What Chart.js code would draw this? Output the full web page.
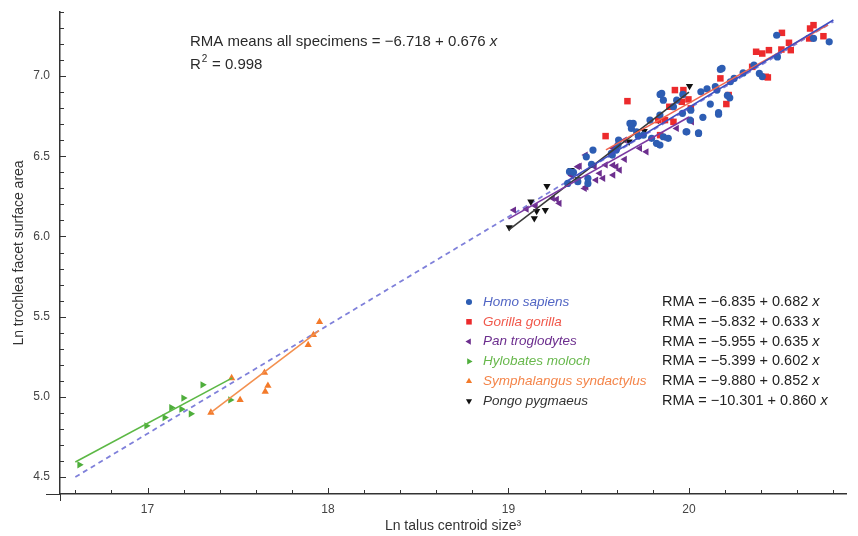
<!DOCTYPE html>
<html>
<head>
<meta charset="utf-8">
<script src="https://cdn.jsdelivr.net/npm/chart.js"></script>
<style>
  html, body { margin: 0; padding: 0; background: #fff; }
  #wrap { width: 858px; height: 536px; }
</style>
</head>
<body>
<div id="wrap"><canvas id="myChart" width="858" height="536"></canvas></div>
<script>
// Ln talus centroid size^3 (x) vs Ln trochlea facet surface area (y)

const homoPts = [
  [20.486,7.255],[20.777,7.214],[20.69,7.235],[20.49,7.12],[20.36,7.069],[20.39,7.017],[20.25,6.986],
  [20.229,6.965],[20.174,7.042],[20.146,6.934],[20.155,6.913],[20.066,6.902],[20.226,6.865],[20.118,6.826],
  [20.164,6.763],[20.053,6.643],[19.984,6.653],[20.077,6.743],[19.849,6.892],[19.858,6.85],[19.691,6.705],
  [19.681,6.674],[19.839,6.757],[19.858,6.622],[19.839,6.57],[19.793,6.612],[19.597,6.539],[19.575,6.508],
  [19.468,6.539],[19.338,6.404],[19.328,6.331],[19.44,6.331],[19.932,6.85],[19.914,6.809],[20.006,6.726],
  [19.747,6.632],[19.71,6.653],[19.964,6.768],[19.84,6.886],[19.784,6.726],[19.673,6.705],[19.719,6.626],
  [19.966,6.886],[20.01,6.788],[19.988,6.653],[20.053,6.647],[20.164,6.772],[19.82,6.581],
  [19.885,6.612],[19.61,6.601],[20.183,7.048],[20.213,6.88],[20.406,6.997],[19.431,6.497],[19.44,6.363],
  [19.57,6.518],[19.607,6.57],[19.384,6.342],[19.36,6.40],[19.46,6.45],[20.30,7.02],[20.10,6.92]
];
const gorillaPts = [
  [20.69,7.318],[20.515,7.27],[20.671,7.297],[20.666,7.235],[20.745,7.249],[20.554,7.208],[20.564,7.162],
  [20.512,7.166],[20.443,7.162],[20.406,7.141],[20.372,7.152],[20.437,6.992],[20.174,6.986],[20.22,6.882],
  [20.207,6.826],[19.969,6.913],[19.997,6.855],[20.01,6.799],[19.96,6.84],[19.922,6.913],[19.891,6.809],
  [19.914,6.715],[19.867,6.726],[19.83,6.726],[19.84,6.632],[19.659,6.844],[19.538,6.626],[20.35,7.058],
  [20.425,6.996]
];
const panPts = [
  [19.03,6.165],[19.267,6.232],[19.10,6.17],[19.15,6.19],[19.427,6.508],[19.477,6.435],[19.505,6.394],
  [19.538,6.446],[19.597,6.435],[19.616,6.414],[19.644,6.481],[19.431,6.31],[19.384,6.435],[19.282,6.207],
  [19.245,6.238],[19.579,6.55],[19.644,6.601],[19.764,6.528],[20.016,6.715],[19.932,6.674],[19.858,6.618],
  [19.728,6.55],[19.394,6.439],[19.524,6.363],[19.485,6.352],[19.579,6.445],[19.422,6.30],[19.58,6.383],
  [19.35,6.38]
];
const hylobatesPts = [
  [16.623,4.576],[16.994,4.819],[17.095,4.871],[17.132,4.933],[17.199,4.992],[17.188,4.923],[17.24,4.894],
  [17.305,5.075],[17.459,4.981]
];
const symphPts = [
  [17.351,4.902],[17.466,5.117],[17.513,4.981],[17.648,5.151],[17.667,5.07],[17.652,5.033],[17.89,5.324],
  [17.919,5.386],[17.953,5.467]
];
const pongoPts = [
  [19.004,6.057],[19.124,6.217],[19.156,6.159],[19.143,6.113],[19.204,6.165],[19.213,6.315],[19.347,6.414],
  [19.384,6.356],[19.668,6.591],[19.752,6.657],[19.83,6.726],[20.003,6.938],[19.836,6.732]
];

// RMA line end points
const allLine = [[16.6,4.50],[20.8,7.34]];
const homoLine = [[19.33,6.35],[20.80,7.35]];
const gorillaLine = [[19.54,6.54],[20.77,7.32]];
const panLine = [[19.0,6.11],[20.0,6.745]];
const hylobatesLine = [[16.6,4.594],[17.47,5.118]];
const symphLine = [[17.35,4.902],[17.95,5.413]];
const pongoLine = [[19.0,6.04],[20.0,6.90]];

const legendNames = ['Homo sapiens','Gorilla gorilla','Pan troglodytes','Hylobates moloch','Symphalangus syndactylus','Pongo pygmaeus'];
const legendEqs = ['RMA = \u22126.835 + 0.682 ','RMA = \u22125.832 + 0.633 ','RMA = \u22125.955 + 0.635 ','RMA = \u22125.399 + 0.602 ','RMA = \u22129.880 + 0.852 ','RMA = \u221210.301 + 0.860 '];

const xTicks = [17, 18, 19, 20];
const yTicks = [4.5, 5.0, 5.5, 6.0, 6.5, 7.0];

const FONT = "'Liberation Sans', Arial, sans-serif";

const species = [
  { pts: homoPts, color: '#2d5db3', text: '#5165c4', line: '#3f4fc2', style: 'circle', r: 3.6, rot: 0 },
  { pts: gorillaPts, color: '#ec2a2c', text: '#f0574a', line: '#f2664f', style: 'rect', r: 4.6, rot: 0 },
  { pts: panPts, color: '#6c2e8e', text: '#6c2e8e', line: '#7b3aa2', style: 'triangle', r: 4.2, rot: -90 },
  { pts: hylobatesPts, color: '#4fae3c', text: '#68b84c', line: '#5cb845', style: 'triangle', r: 4.2, rot: 90 },
  { pts: symphPts, color: '#f37a2a', text: '#f4854a', line: '#f3904f', style: 'triangle', r: 4.2, rot: 0 },
  { pts: pongoPts, color: '#111111', text: '#333333', line: '#3a3a3a', style: 'triangle', r: 4.2, rot: 180 }
];
const lines = [homoLine, gorillaLine, panLine, hylobatesLine, symphLine, pongoLine];

const toXY = arr => arr.map(p => ({ x: p[0], y: p[1] }));

const datasets = [];
species.forEach((s, i) => {
  datasets.push({
    label: legendNames[i] + ' RMA',
    data: toXY(lines[i]),
    showLine: true,
    borderColor: s.line,
    borderWidth: 1.6,
    pointRadius: 0,
    order: 0
  });
});
species.forEach((s, i) => {
  datasets.push({
    label: legendNames[i],
    data: toXY(s.pts),
    backgroundColor: s.color,
    borderColor: s.color,
    borderWidth: 0,
    pointStyle: s.style,
    pointRadius: s.r,
    pointRotation: s.rot,
    order: 1
  });
});
datasets.push({
  label: 'RMA all',
  data: toXY(allLine),
  showLine: true,
  borderColor: '#7f80da',
  borderWidth: 1.8,
  borderDash: [5, 4],
  pointRadius: 0,
  order: 2
});

// inward tick marks, axis overhang, annotation and legend
const overlay = {
  id: 'overlay',
  afterDraw(chart) {
    const ctx = chart.ctx;
    const xs = chart.scales.x, ys = chart.scales.y;
    const a = chart.chartArea;
    ctx.save();
    ctx.strokeStyle = '#333';
    ctx.lineWidth = 1;
    ctx.beginPath();
    ctx.moveTo(a.left - 14, a.bottom + 0.5); ctx.lineTo(a.left, a.bottom + 0.5);
    ctx.moveTo(a.left + 0.5, a.bottom); ctx.lineTo(a.left + 0.5, a.bottom + 7);
    for (let i = Math.ceil(xs.min * 5); i <= xs.max * 5; i++) {
      const px = Math.round(xs.getPixelForValue(i / 5)) + 0.5;
      const len = i % 5 === 0 ? 6 : 4;
      ctx.moveTo(px, a.bottom); ctx.lineTo(px, a.bottom - len);
    }
    for (let i = Math.ceil(ys.min * 10); i <= ys.max * 10; i++) {
      const py = Math.round(ys.getPixelForValue(i / 10)) + 0.5;
      const len = i % 5 === 0 ? 6 : 4;
      ctx.moveTo(a.left, py); ctx.lineTo(a.left + len, py);
    }
    ctx.stroke();

    ctx.fillStyle = '#2a2a2a';
    ctx.textBaseline = 'middle';
    ctx.textAlign = 'left';
    ctx.font = '15px ' + FONT;
    const t1 = 'RMA means all specimens = \u22126.718 + 0.676 ';
    ctx.fillText(t1, 190, 42);
    const w1 = ctx.measureText(t1).width;
    ctx.font = 'italic 15px ' + FONT;
    ctx.fillText('x', 190 + w1, 42);
    ctx.font = '15px ' + FONT;
    ctx.fillText('R', 190, 65);
    const wr = ctx.measureText('R').width;
    ctx.font = '10px ' + FONT;
    ctx.fillText('2', 190 + wr + 1, 59);
    ctx.font = '15px ' + FONT;
    ctx.fillText(' = 0.998', 190 + wr + 7, 65);

    species.forEach((s, i) => {
      const y = 302 + i * 19.8;
      ctx.fillStyle = s.color;
      Chart.helpers.drawPoint(ctx, {
        pointStyle: s.style, radius: s.r * 0.85, rotation: s.rot, borderWidth: 0
      }, 469, y);
      ctx.fillStyle = s.text;
      ctx.font = 'italic 13.5px ' + FONT;
      ctx.fillText(legendNames[i], 483, y);
      ctx.fillStyle = '#222';
      ctx.font = '14.5px ' + FONT;
      ctx.fillText(legendEqs[i], 662, y);
      const we = ctx.measureText(legendEqs[i]).width;
      ctx.font = 'italic 14.5px ' + FONT;
      ctx.fillText('x', 662 + we, y);
    });
    ctx.restore();
  }
};

const config = {
  type: 'scatter',
  data: { datasets },
  options: {
    responsive: false,
    animation: false,
    layout: { padding: { left: 0, top: 12, right: 12, bottom: 0 } },
    plugins: { legend: { display: false }, tooltip: { enabled: false } },
    scales: {
      x: {
        type: 'linear',
        min: 16.515,
        max: 20.87,
        afterFit(scale) { scale.height = 42; },
        afterBuildTicks(scale) { scale.ticks = xTicks.map(v => ({ value: v })); },
        grid: { display: false },
        border: { display: true, color: '#333', width: 1.5 },
        ticks: { color: '#444', font: { family: FONT, size: 12 }, padding: 0, callback: v => String(v) },
        title: { display: true, text: 'Ln talus centroid size\u00b3', color: '#333', font: { family: FONT, size: 14 }, padding: { top: 0, bottom: 1 } }
      },
      y: {
        type: 'linear',
        min: 4.394,
        max: 7.40,
        afterFit(scale) { scale.width = 60; },
        afterBuildTicks(scale) { scale.ticks = yTicks.map(v => ({ value: v })); },
        grid: { display: false },
        border: { display: true, color: '#333', width: 1.5 },
        ticks: { color: '#444', font: { family: FONT, size: 12 }, padding: 2, callback: v => v.toFixed(1) },
        title: { display: true, text: 'Ln trochlea facet surface area', color: '#333', font: { family: FONT, size: 14 }, padding: { top: 11, bottom: 0 } }
      }
    }
  },
  plugins: [overlay]
};

const myChart = new Chart(document.getElementById('myChart'), config);
</script>
</body>
</html>
